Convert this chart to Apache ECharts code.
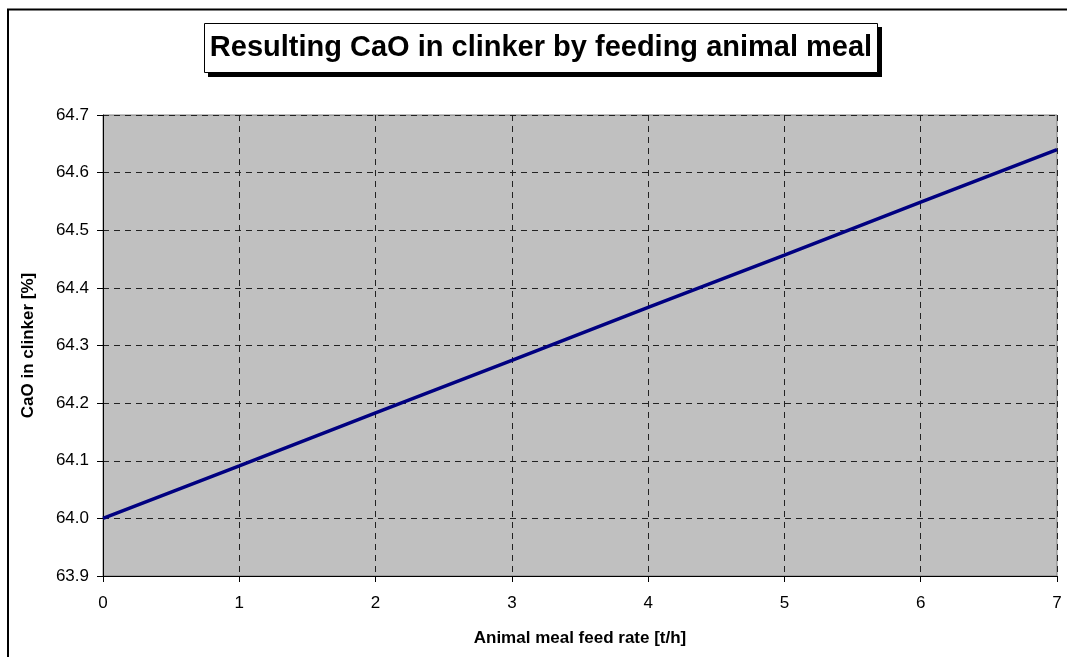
<!DOCTYPE html>
<html>
<head>
<meta charset="utf-8">
<script src="https://cdn.jsdelivr.net/npm/echarts@6/dist/echarts.min.js"></script>
<style>
  html, body { margin: 0; padding: 0; background: #fff; }
  #chart { width: 1067px; height: 657px; }
</style>
</head>
<body>
<div id="chart"></div>
<script>
// data
const feedRate = [0, 1, 2, 3, 4, 5, 6, 7];
const caoInClinker = [64.0, 64.091, 64.183, 64.274, 64.366, 64.457, 64.549, 64.64];
const titleText = 'Resulting CaO in clinker by feeding animal meal';

const chart = echarts.init(document.getElementById('chart'));

const font = 'Liberation Sans, Arial, sans-serif';

const option = {
  backgroundColor: '#fff',
  animation: false,
  graphic: [
    // outer chart frame
    {
      type: 'rect',
      shape: { x: 8, y: 9.5, width: 1100, height: 700 },
      style: { fill: 'none', stroke: '#000', lineWidth: 2 },
      silent: true,
    },
    // title box with hard shadow
    {
      type: 'rect',
      shape: { x: 208, y: 27, width: 674, height: 50 },
      style: { fill: '#000' },
      silent: true,
    },
    {
      type: 'rect',
      shape: { x: 204.5, y: 23.5, width: 673, height: 49 },
      style: { fill: '#fff', stroke: '#000', lineWidth: 1 },
      silent: true,
    },
    {
      type: 'text',
      x: 541,
      y: 48,
      style: {
        text: titleText,
        fill: '#000',
        font: 'bold 29px ' + font,
        align: 'center',
        verticalAlign: 'middle',
      },
      silent: true,
    },
  ],
  grid: {
    left: 103,
    right: 10,
    top: 115,
    bottom: 81,
    show: true,
    backgroundColor: '#c0c0c0',
    borderColor: '#808080',
    borderWidth: 1,
  },
  xAxis: {
    type: 'value',
    min: 0,
    max: 7,
    interval: 1,
    name: 'Animal meal feed rate [t/h]',
    nameLocation: 'middle',
    nameGap: 54,
    nameTextStyle: { fontFamily: font, fontSize: 17, fontWeight: 'bold', color: '#000' },
    axisLine: { lineStyle: { color: '#000', width: 1 } },
    axisTick: { show: true, length: 6, lineStyle: { color: '#000' } },
    axisLabel: { fontFamily: font, fontSize: 17, color: '#000', margin: 19 },
    splitLine: { show: true, lineStyle: { color: '#222', type: [6, 5], width: 1 } },
  },
  yAxis: {
    type: 'value',
    min: 63.9,
    max: 64.7,
    interval: 0.1,
    name: 'CaO in clinker [%]',
    nameLocation: 'middle',
    nameGap: 66,
    nameTextStyle: { fontFamily: font, fontSize: 17, fontWeight: 'bold', color: '#000' },
    axisLine: { show: true, lineStyle: { color: '#000', width: 1 } },
    axisTick: { show: true, length: 6, lineStyle: { color: '#000' } },
    axisLabel: {
      fontFamily: font,
      fontSize: 17,
      color: '#000',
      margin: 14,
      formatter: (v) => v.toFixed(1),
    },
    splitLine: { show: true, lineStyle: { color: '#222', type: [6, 5], width: 1 } },
  },
  series: [
    {
      type: 'line',
      data: feedRate.map((x, i) => [x, caoInClinker[i]]),
      showSymbol: false,
      lineStyle: { color: '#000080', width: 3.5 },
      itemStyle: { color: '#000080' },
    },
  ],
};

chart.setOption(option);
</script>
</body>
</html>
